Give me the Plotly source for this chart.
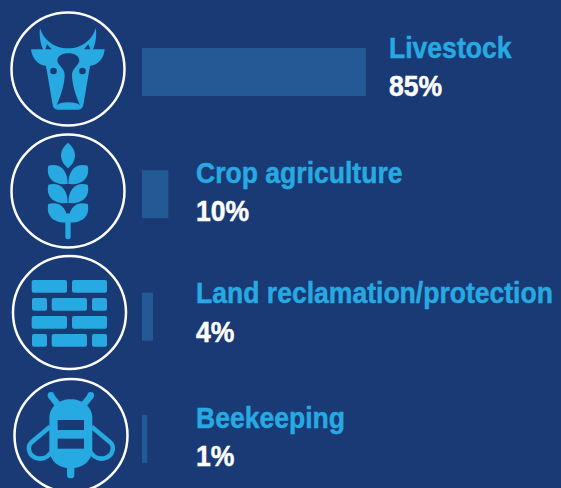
import re
import plotly.graph_objects as go

W, H = 561, 488
categories = ["Livestock", "Crop agriculture", "Land reclamation/protection", "Beekeeping"]
labels = ["85%", "10%", "4%", "1%"]
bar_lengths = [85, 10, 4.2, 2]

BG = "#193a75"
BAR = "#235a95"
BLUE = "#27a9e1"
WHITE = "#ffffff"

X0, PX_PER_UNIT = 142, 224 / 85
Y0, PX_PER_CAT = 72, 122.3
BAR_PX = 48
TEXT_FONT = "Liberation Sans"
TEXT_SIZE = 30
TEXT_SQUEEZE = 0.885


def to_paper(path, scale=1 / 3, dy=0.0):
    """Convert an icon path written in 3x-crop pixels to paper coordinates."""
    i = [0]

    def sub(m):
        v = float(m.group()) * scale
        k = i[0]
        i[0] += 1
        if k % 2 == 0:
            return f"{v / W:.5f}"
        return f"{1 - (v + dy) / H:.5f}"

    return re.sub(r"-?\d+(?:\.\d+)?", sub, path)


shapes = []


def add(path, fill=None, line=None, lw=0, dy=0.0):
    s = dict(type="path", xref="paper", yref="paper", path=to_paper(path, dy=dy), layer="above")
    if fill:
        s["fillcolor"] = fill
    s["line"] = dict(color=line or "rgba(0,0,0,0)", width=lw)
    shapes.append(s)


def circle(cx, cy, r, color, lw):
    shapes.append(dict(type="circle", xref="paper", yref="paper", layer="above",
                       x0=(cx - r) / W, x1=(cx + r) / W, y0=1 - (cy + r) / H, y1=1 - (cy - r) / H,
                       line=dict(color=color, width=lw), fillcolor="rgba(0,0,0,0)"))


def dot(cx, cy, r, color):
    shapes.append(dict(type="circle", xref="paper", yref="paper", layer="above",
                       x0=(cx - r) / W, x1=(cx + r) / W, y0=1 - (cy + r) / H, y1=1 - (cy - r) / H,
                       line=dict(width=0), fillcolor=color))


def rrect(x0, y0, x1, y1, r=6):
    return (f"M{x0 + r},{y0} L{x1 - r},{y0} Q{x1},{y0} {x1},{y0 + r} L{x1},{y1 - r} Q{x1},{y1} {x1 - r},{y1} "
            f"L{x0 + r},{y1} Q{x0},{y1} {x0},{y1 - r} L{x0},{y0 + r} Q{x0},{y0} {x0 + r},{y0} Z")


# Ring outlines
circle(68, 69, 56.5, WHITE, 2.5)
circle(68, 191, 56.5, WHITE, 2.5)
circle(69.5, 312.5, 56.5, WHITE, 2.5)
circle(71, 435.5, 56.5, WHITE, 2.5)

# Cow
add("M120,83 C128,115 160,145 204,145 C248,145 280,115 287,83 C291,105 287,130 279,148 L314,148 "
    "C312,175 295,195 270,198 L250,315 Q248,328 235,329 L173,329 Q160,328 158,315 L138,198 "
    "C113,195 96,175 93,148 L129,148 C121,130 117,105 120,83 Z", fill=BLUE)
add("M136,148 L141,133 L155,148 Z", fill=BG)
add("M271,148 L265,133 L252,148 Z", fill=BG)
add("M205,160 C187,160 172,168 172,183 C175,198 194,205 194,225 C194,250 184,285 170,315 "
    "C180,309 190,307 205,307 C220,307 230,309 240,315 C226,285 216,250 216,225 "
    "C216,205 235,198 238,183 C238,168 223,160 205,160 Z", fill=BG)
dot(53.5, 71, 3.3, BG)
dot(82.5, 71, 3.3, BG)

# Wheat
add(rrect(196, 640, 212, 718, 7), fill=BLUE)
add("M204,428 C190,440 183,452 183,466 C183,485 195,498 204,505 C213,498 225,485 225,466 "
    "C225,452 218,440 204,428 Z", fill=BLUE)
for off in (0, 57, 115):
    add(f"M145,{497 + off} C180,{488 + off} 203,{510 + off} 203,{552 + off} "
        f"C160,{556 + off} 137,{532 + off} 145,{497 + off} Z", fill=BLUE)
    add(f"M263,{497 + off} C228,{488 + off} 205,{510 + off} 205,{552 + off} "
        f"C248,{556 + off} 271,{532 + off} 263,{497 + off} Z", fill=BLUE)

# Bricks (crop offset 250 px)
for y0, y1 in ((90, 128), (198, 236)):
    for x0, x1 in ((95, 201), (216, 321)):
        add(rrect(x0, y0, x1, y1), fill=BLUE, dy=250)
for y0, y1 in ((144, 182), (252, 290)):
    for x0, x1 in ((96, 141), (155, 261), (276, 321)):
        add(rrect(x0, y0, x1, y1), fill=BLUE, dy=250)

# Bee (crop offset 250 px)
add("M153,438 L180,472", line=BLUE, lw=6.5, dy=250)
add("M272,438 L245,472", line=BLUE, lw=6.5, dy=250)
dot(51, 395.5, 3.4, BLUE)
dot(90.7, 395.5, 3.4, BLUE)
add("M150,530 L93,578 C82,590 84,618 112,625 C132,629 148,618 158,600", line=BLUE, lw=4.5, dy=250)
add("M275,530 L332,578 C343,590 341,618 313,625 C293,629 277,618 267,600", line=BLUE, lw=4.5, dy=250)
add("M212,448 C250,448 277,472 277,505 L277,600 C274,635 248,655 212,655 "
    "C176,655 151,635 148,600 L148,505 C148,472 174,448 212,448 Z", fill=BLUE, dy=250)
add(rrect(201, 645, 223, 685, 10), fill=BLUE, dy=250)
add("M173,510 L252,510 L252,540 L173,540 Z", fill=BG, dy=250)
add("M173,566 L252,566 L252,596 L173,596 Z", fill=BG, dy=250)

fig = go.Figure(go.Bar(
    x=bar_lengths, y=categories, orientation="h",
    width=BAR_PX / PX_PER_CAT, marker=dict(color=BAR, line=dict(width=0)),
    hoverinfo="skip",
))

label_pos = [(387, 47, 85), (194, 172, 210), (194, 292, 331), (194, 417, 455)]
annotations = []
for name, val, (x, y1, y2) in zip(categories, labels, label_pos):
    annotations.append(dict(text=name, x=x / W, y=1 - y1 / H, xref="paper", yref="paper", xanchor="left",
                            yanchor="middle", showarrow=False,
                            font=dict(family=TEXT_FONT, size=TEXT_SIZE, color=BLUE, weight="bold")))
    annotations.append(dict(text=val, x=x / W, y=1 - y2 / H, xref="paper", yref="paper", xanchor="left",
                            yanchor="middle", showarrow=False,
                            font=dict(family=TEXT_FONT, size=TEXT_SIZE, color=WHITE, weight="bold")))

fig.update_layout(
    width=W, height=H, autosize=False,
    margin=dict(l=0, r=0, t=0, b=0, pad=0),
    paper_bgcolor=BG, plot_bgcolor=BG, showlegend=False,
    xaxis=dict(visible=False, range=[-X0 / PX_PER_UNIT, (W - X0) / PX_PER_UNIT], fixedrange=True),
    yaxis=dict(visible=False, type="category", categoryorder="array", categoryarray=categories,
               range=[(H - Y0) / PX_PER_CAT, -Y0 / PX_PER_CAT], fixedrange=True),
    shapes=shapes, annotations=annotations,
)
post = f"""
document.documentElement.style.background = '{BG}';
document.body.style.margin = '0';
document.body.style.overflow = 'hidden';
document.querySelectorAll('.annotation-text').forEach(function (t) {{
  t.style.transformBox = 'fill-box';
  t.style.transformOrigin = '0 50%';
  t.style.transform = 'scaleX({TEXT_SQUEEZE})';
  t.style.stroke = t.style.fill;
  t.style.strokeWidth = '0.5px';
}});
"""
fig.write_html("out.html", config={"displayModeBar": False, "responsive": False}, post_script=post)
